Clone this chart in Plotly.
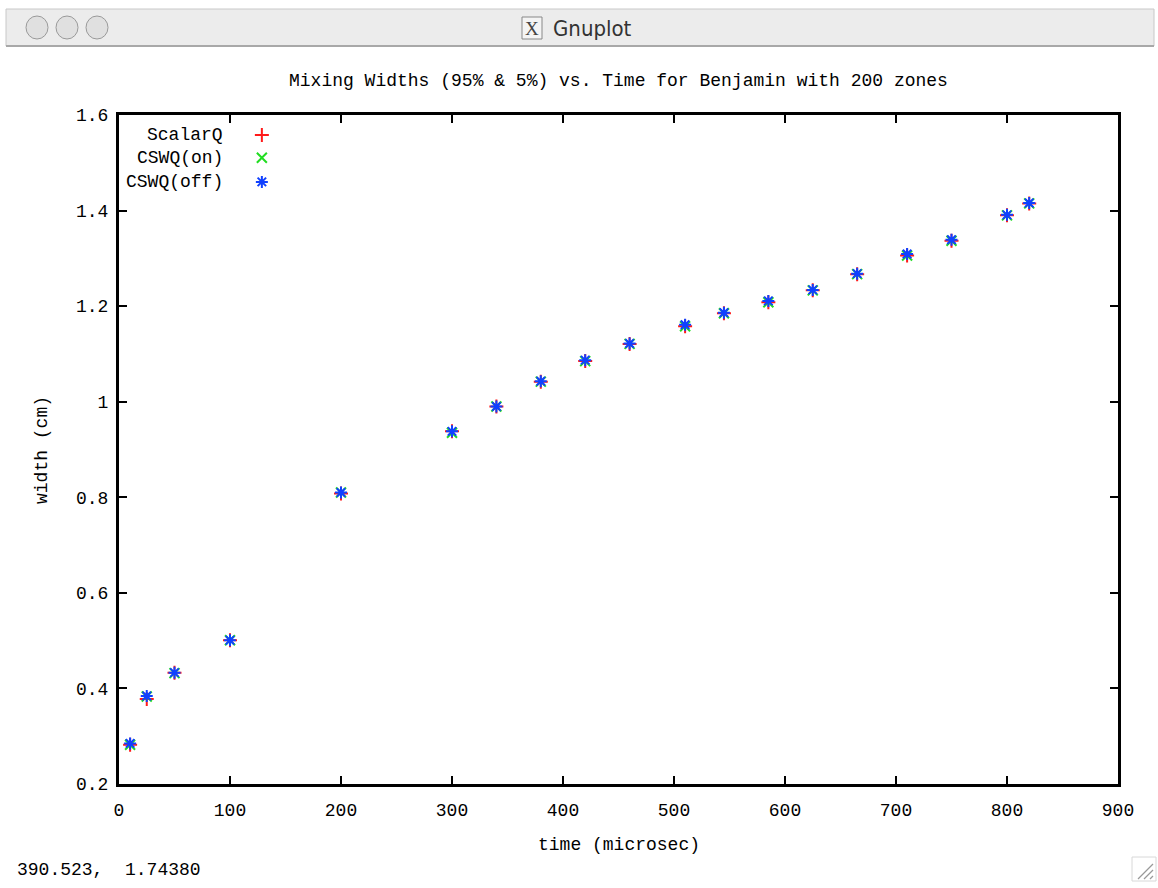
import plotly.graph_objects as go

# Mixing width measurements (time in microseconds, width in cm)
time_us = [10, 25, 50, 100, 200, 300, 340, 380, 420, 460, 510, 545, 585, 625, 665, 710, 750, 800, 820]
width_scalarq = [0.282, 0.378, 0.433, 0.501, 0.808, 0.938, 0.990, 1.042, 1.085, 1.121, 1.158, 1.185, 1.208, 1.233, 1.267, 1.306, 1.337, 1.390, 1.415]
width_cswq_on = [0.282, 0.383, 0.432, 0.501, 0.810, 0.935, 0.990, 1.042, 1.085, 1.121, 1.158, 1.185, 1.208, 1.233, 1.267, 1.306, 1.337, 1.390, 1.415]
width_cswq_off = [0.285, 0.384, 0.433, 0.501, 0.810, 0.938, 0.990, 1.043, 1.087, 1.122, 1.161, 1.186, 1.211, 1.234, 1.268, 1.309, 1.339, 1.391, 1.416]

series_names = ["ScalarQ", "CSWQ(on)", "CSWQ(off)"]
x_ticks = [0, 100, 200, 300, 400, 500, 600, 700, 800, 900]
y_ticks = [0.2, 0.4, 0.6, 0.8, 1.0, 1.2, 1.4, 1.6]
y_tick_text = ["0.2", "0.4", "0.6", "0.8", "1", "1.2", "1.4", "1.6"]

W, H = 1158, 888
L, R, T, B = 119, 1118, 115, 784   # plot box in pixels
MONO = "Liberation Mono, DejaVu Sans Mono, monospace"
FS = 18

def px(x):
    return (x - L) / (R - L)

def py(y):
    return (B - y) / (B - T)

styles = [
    dict(symbol="cross-thin-open", color="#ff1a1a"),
    dict(symbol="x-thin-open", color="#22dd22"),
    dict(symbol="asterisk-open", color="#1040ff"),
]

fig = go.Figure()
for name, ys, st in zip(series_names, [width_scalarq, width_cswq_on, width_cswq_off], styles):
    fig.add_trace(go.Scatter(
        x=time_us, y=ys, mode="markers", name=name, showlegend=False,
        marker=dict(symbol=st["symbol"], size=10, color=st["color"],
                    line=dict(color=st["color"], width=2)),
    ))

# key: text on the left, sample marker on the right (gnuplot style)
key_rows = [0.970, 0.936, 0.900]
for name, yk, st in zip(series_names, key_rows, styles):
    fig.add_trace(go.Scatter(
        x=[0.143], y=[yk], xaxis="x2", yaxis="y2", mode="markers", showlegend=False,
        hoverinfo="skip",
        marker=dict(symbol=st["symbol"], size=10, color=st["color"],
                    line=dict(color=st["color"], width=2)),
    ))
    fig.add_annotation(x=0.106, y=yk, xref="x2", yref="y2", text=name, showarrow=False,
                       xanchor="right", yanchor="middle",
                       font=dict(family=MONO, size=FS, color="black"))

axis_common = dict(
    showline=True, linewidth=3, linecolor="black", mirror="ticks",
    ticks="inside", ticklen=8, tickwidth=2, tickcolor="black",
    showgrid=False, zeroline=False,
    tickfont=dict(family=MONO, size=FS, color="black"),
)

fig.update_layout(
    width=W, height=H,
    margin=dict(l=L, r=W - R, t=T, b=H - B),
    paper_bgcolor="white", plot_bgcolor="white",
    showlegend=False,
    xaxis=dict(range=[0, 900], tickvals=x_ticks, ticktext=[str(v) for v in x_ticks],
               ticklabelstandoff=7, **axis_common),
    yaxis=dict(range=[0.2, 1.6], tickvals=y_ticks, ticktext=y_tick_text,
               ticklabelstandoff=4, **axis_common),
    xaxis2=dict(range=[0, 1], overlaying="x", visible=False, fixedrange=True),
    yaxis2=dict(range=[0, 1], overlaying="y", visible=False, fixedrange=True),
)

def text_at(x, y, text, xanchor="center", **kw):
    fig.add_annotation(x=px(x), y=py(y), xref="paper", yref="paper", showarrow=False,
                       xanchor=xanchor, yanchor="middle", text=text, **kw)

# plot title and axis titles
text_at(618.5, 81, "Mixing Widths (95% & 5%) vs. Time for Benjamin with 200 zones",
        font=dict(family=MONO, size=FS, color="black"))
text_at(618.5, 845, "time (microsec)", font=dict(family=MONO, size=FS, color="black"))
text_at(42, 450, "width (cm)", textangle=-90, font=dict(family=MONO, size=FS, color="black"))

# pointer coordinate readout at the bottom of the window
text_at(15, 870, "390.523,  1.74380", xanchor="left",
        font=dict(family=MONO, size=FS, color="black"))

# window title bar
fig.add_shape(type="rect", xref="paper", yref="paper",
              x0=px(6), x1=px(1154), y0=py(46), y1=py(9),
              fillcolor="#ececec", line=dict(color="#c8c8c8", width=1), layer="below")
fig.add_shape(type="line", xref="paper", yref="paper",
              x0=px(6), x1=px(1154), y0=py(46), y1=py(46),
              line=dict(color="#a8a8a8", width=2))
for cx in [37, 67, 97]:
    fig.add_shape(type="circle", xref="paper", yref="paper",
                  x0=px(cx - 11), x1=px(cx + 11), y0=py(39), y1=py(16),
                  fillcolor="#e0e0e0", line=dict(color="#9a9a9a", width=1))
fig.add_shape(type="rect", xref="paper", yref="paper",
              x0=px(522), x1=px(542), y0=py(39), y1=py(17),
              fillcolor="#f4f4f4", line=dict(color="#888888", width=1))
text_at(532, 28, "X", font=dict(family="Liberation Serif, serif", size=19, color="#444444"))
text_at(551, 28, "Gnuplot", xanchor="left",
        font=dict(family="DejaVu Sans Condensed, Liberation Sans Narrow, sans-serif",
                  size=22, color="#333333"))

# resize grip
fig.add_shape(type="rect", xref="paper", yref="paper",
              x0=px(1132), x1=px(1156), y0=py(881), y1=py(857),
              fillcolor="white", line=dict(color="#d8d8d8", width=1))
for d in [0, 6, 12]:
    fig.add_shape(type="line", xref="paper", yref="paper",
                  x0=px(1138 + d), x1=px(1153), y0=py(879), y1=py(864 + d),
                  line=dict(color="#999999", width=1.2))

fig.write_html("out.html")
